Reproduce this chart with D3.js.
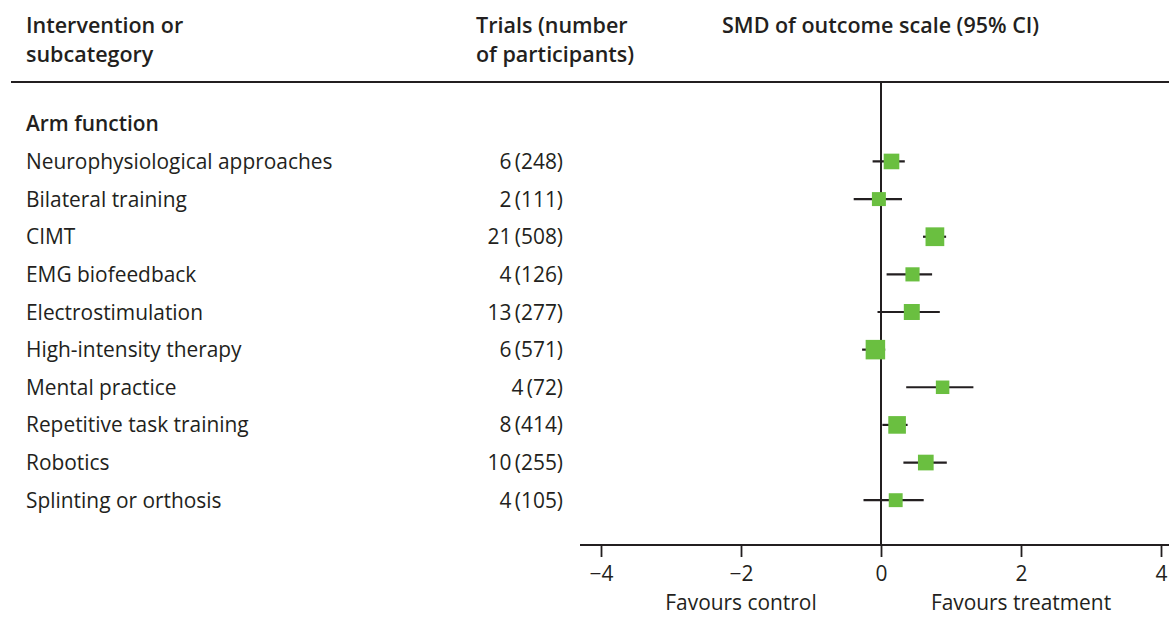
<!DOCTYPE html>
<html>
  <head>
    <title>SMD forest plot - arm function</title>
    <script src="https://d3js.org/d3.v7.min.js"></script>
    <style>
      body { margin: 0; background: #fff; }
      svg text { font-family: "Open Sans", sans-serif; fill: #231f20; }
      .head { font-size: 21.5px; font-weight: 600; }
      .row { font-size: 20.9px; }
    </style>
  </head>
  <body>
    <div id="chart"></div>
    <script>
      // Data
      const groupLabel = "Arm function";
      const interventions = [
        "Neurophysiological approaches", "Bilateral training", "CIMT", "EMG biofeedback",
        "Electrostimulation", "High-intensity therapy", "Mental practice",
        "Repetitive task training", "Robotics", "Splinting or orthosis"
      ];
      const trials = [6, 2, 21, 4, 13, 6, 4, 8, 10, 4];
      const participants = [248, 111, 508, 126, 277, 571, 72, 414, 255, 105];
      const smd = [0.15, -0.03, 0.77, 0.45, 0.44, -0.08, 0.88, 0.23, 0.64, 0.21];
      const ciLow = [-0.12, -0.39, 0.60, 0.08, -0.05, -0.27, 0.36, 0.02, 0.32, -0.25];
      const ciHigh = [0.34, 0.30, 0.93, 0.73, 0.84, 0.06, 1.32, 0.38, 0.94, 0.61];
      const xTicks = [-4, -2, 0, 2, 4];

      const data = interventions.map((name, i) => ({
        name, trials: trials[i], n: participants[i],
        est: smd[i], lo: ciLow[i], hi: ciHigh[i]
      }));

      const width = 1169, height = 618;
      const svg = d3.select("#chart").append("svg")
        .attr("width", width).attr("height", height);

      // scales
      const x = d3.scaleLinear().domain([-4, 4]).range([601, 1161]);
      const y = d3.scaleBand()
        .domain(["__group", ...interventions])
        .range([105, 519]);
      const cy = (k) => y(k) + y.bandwidth() / 2;
      const boxSize = d3.scaleLinear().domain([72, 571]).range([13.5, 19.5]);

      // headers
      const headers = [
        { x: 26, lines: ["Intervention or", "subcategory"] },
        { x: 476, lines: ["Trials (number", "of participants)"] },
        { x: 722, lines: ["SMD of outcome scale (95% CI)"] }
      ];
      headers.forEach((h) => {
        h.lines.forEach((t, j) => {
          svg.append("text").attr("class", "head")
            .attr("x", h.x).attr("y", 33 + j * 29).text(t);
        });
      });
      svg.append("line")
        .attr("x1", 11).attr("x2", width).attr("y1", 82).attr("y2", 82)
        .attr("stroke", "#231f20").attr("stroke-width", 1.8);

      // group label
      svg.append("text").attr("class", "head")
        .attr("x", 26).attr("y", cy("__group")).attr("dy", "0.36em")
        .style("font-size", "20.9px")
        .text(groupLabel);

      // row labels
      svg.selectAll(".label").data(data).enter().append("text")
        .attr("class", "row label")
        .attr("x", 26).attr("y", (d) => cy(d.name)).attr("dy", "0.36em")
        .text((d) => d.name);

      svg.selectAll(".count").data(data).enter().append("text")
        .attr("class", "row count")
        .attr("x", 563).attr("y", (d) => cy(d.name)).attr("dy", "0.36em")
        .attr("text-anchor", "end")
        .text((d) => `${d.trials}\u2009(${d.n})`);

      // line of no effect
      svg.append("line")
        .attr("x1", x(0)).attr("x2", x(0)).attr("y1", 82).attr("y2", 545)
        .attr("stroke", "#231f20").attr("stroke-width", 2);

      // confidence intervals
      svg.selectAll(".ci").data(data).enter().append("line")
        .attr("class", "ci")
        .attr("x1", (d) => x(d.lo)).attr("x2", (d) => x(d.hi))
        .attr("y1", (d) => cy(d.name)).attr("y2", (d) => cy(d.name))
        .attr("stroke", "#231f20").attr("stroke-width", 2.2);

      // point estimates
      svg.selectAll(".box").data(data).enter().append("rect")
        .attr("class", "box")
        .attr("x", (d) => x(d.est) - boxSize(d.n) / 2)
        .attr("y", (d) => cy(d.name) - boxSize(d.n) / 2)
        .attr("width", (d) => boxSize(d.n))
        .attr("height", (d) => boxSize(d.n))
        .attr("fill", "#6abf40");

      // x axis
      const axis = svg.append("g").attr("transform", "translate(0,545)");
      axis.append("line")
        .attr("x1", x(-4.3)).attr("x2", width).attr("y1", 0).attr("y2", 0)
        .attr("stroke", "#231f20").attr("stroke-width", 1.8);
      axis.call(d3.axisBottom(x).tickValues(xTicks).tickSize(12).tickPadding(9)
        .tickFormat((d) => (d < 0 ? "\u2212" + Math.abs(d) : d)));
      axis.select(".domain").remove();
      axis.selectAll(".tick line").attr("stroke", "#231f20").attr("stroke-width", 1.8);
      axis.selectAll(".tick text")
        .style("font-family", "'Open Sans', sans-serif")
        .style("font-size", "20.9px").attr("fill", "#231f20");

      // direction labels
      svg.append("text").attr("class", "row")
        .attr("x", x(-2)).attr("y", 610).attr("text-anchor", "middle")
        .text("Favours control");
      svg.append("text").attr("class", "row")
        .attr("x", x(2)).attr("y", 610).attr("text-anchor", "middle")
        .text("Favours treatment");
    </script>
  </body>
</html>
